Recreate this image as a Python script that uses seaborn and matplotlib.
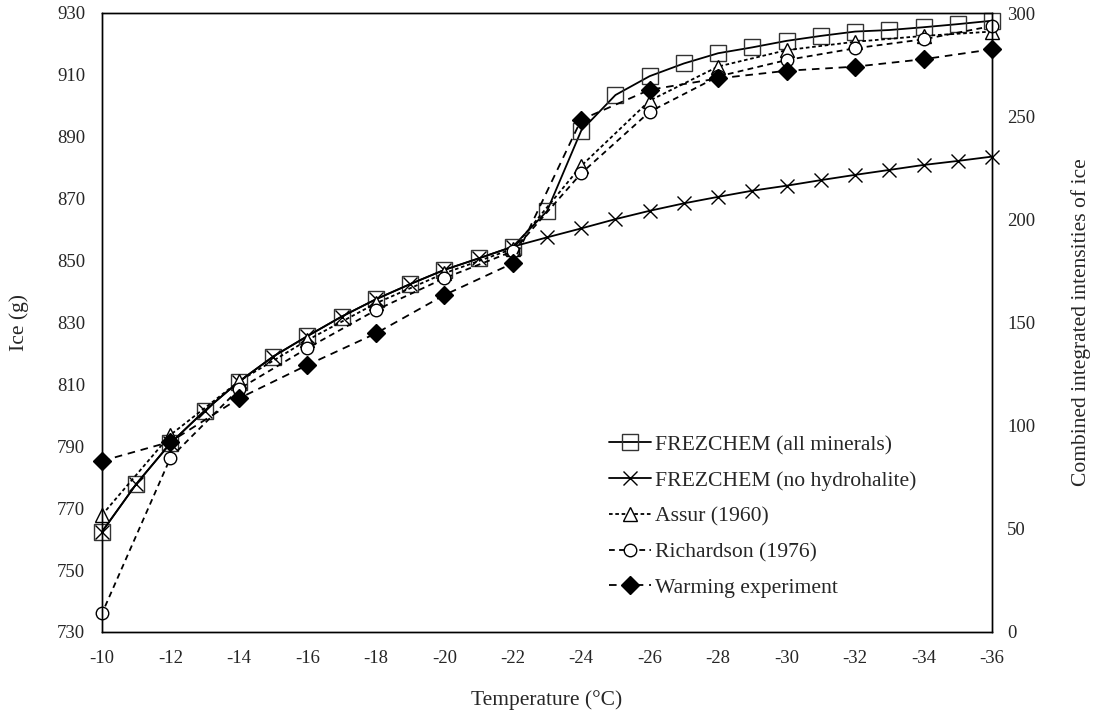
import numpy as np
import pandas as pd
import matplotlib
matplotlib.use("Agg")
import matplotlib.pyplot as plt
import seaborn as sns

# ── Data ───────────────────────────────────────────────────────────────────────

temps_1c = list(range(-10, -37, -1))          # FREZCHEM, every 1 °C
temps_2c = list(range(-10, -37, -2))          # measurements, every 2 °C

frez_all = [762.4, 777.8, 791.0, 801.5, 810.9, 819.0, 825.6, 831.9, 837.5,
            842.4, 847.0, 850.7, 854.5, 866.0, 892.0, 903.5, 909.6, 913.7,
            917.0, 918.9, 921.0, 922.6, 924.0, 924.5, 925.4, 926.4, 927.5]
frez_no_hh = [762.4, 777.8, 791.0, 801.5, 810.9, 819.0, 825.6, 831.9, 837.5,
              842.4, 847.0, 850.7, 854.5, 857.5, 860.4, 863.4, 866.1, 868.5,
              870.6, 872.6, 874.2, 876.0, 877.7, 879.3, 880.9, 882.2, 883.6]

assur = [767.8, 793.7, 811.0, 824.3, 836.2, 845.9, 853.8,
         880.6, 901.7, 912.7, 918.0, 920.7, 922.6, 924.0]
richardson = [736.0, 786.3, 808.5, 821.7, 834.0, 844.3, 853.0,
              878.2, 898.1, 909.5, 914.8, 918.6, 921.5, 925.8]
warming = [82.9, 92.2, 113.2, 129.4, 144.7, 163.3, 178.7,
           248.3, 262.8, 268.3, 272.0, 274.0, 277.6, 282.4]   # right axis

left_ticks = list(range(730, 931, 20))
right_ticks = list(range(0, 301, 50))
x_ticks = temps_2c

# ── Style ──────────────────────────────────────────────────────────────────────

sns.set_style("white")
plt.rcParams["font.family"] = ["Liberation Serif", "DejaVu Serif"]
plt.rcParams["axes.linewidth"] = 1.0
plt.rcParams["axes.edgecolor"] = "black"

fig = plt.figure(figsize=(10.97, 7.11), dpi=100)
ax = fig.add_axes([102 / 1097, 1 - 632 / 711, 890 / 1097, 619 / 711])
ax2 = ax.twinx()

lw = 1.3
common = dict(color="black", linewidth=lw, markeredgewidth=1.0, clip_on=False)

sns.lineplot(x=temps_1c, y=frez_all, ax=ax, marker="s", markersize=11,
             markerfacecolor="none", markeredgecolor="#333333",
             label="FREZCHEM (all minerals)", **common)
sns.lineplot(x=temps_1c, y=frez_no_hh, ax=ax, marker="x", markersize=10,
             markeredgecolor="black", label="FREZCHEM (no hydrohalite)", **common)
sns.lineplot(x=temps_2c, y=assur, ax=ax, marker="^", markersize=10,
             markerfacecolor="white", markeredgecolor="black",
             linestyle=(0, (2.0, 1.5)), label="Assur (1960)", **common)
sns.lineplot(x=temps_2c, y=richardson, ax=ax, marker="o", markersize=9,
             markerfacecolor="white", markeredgecolor="black",
             linestyle=(0, (3.2, 2.4)), label="Richardson (1976)", **common)
sns.lineplot(x=temps_2c, y=warming, ax=ax2, marker="D", markersize=9.5,
             markerfacecolor="black", markeredgecolor="black",
             linestyle=(0, (4.2, 3.2)), label="Warming experiment", **common)

# ── Axes ───────────────────────────────────────────────────────────────────────

ax.set_xlim(-10, -36)
ax.set_xticks(x_ticks)
ax.set_xticklabels([str(t) for t in x_ticks])
ax.set_ylim(730, 930)
ax.set_yticks(left_ticks)
ax2.set_ylim(0, 300)
ax2.set_yticks(right_ticks)

ax.tick_params(axis="y", length=0, labelsize=13.5, pad=12)
ax.tick_params(axis="x", length=0, labelsize=13.5, pad=13)
ax2.tick_params(axis="y", length=0, labelsize=13.5, pad=11)
for a in (ax, ax2):
    for s in a.spines.values():
        s.set_visible(True)
        s.set_color("black")
        s.set_linewidth(1.0)

ax.set_xlabel("Temperature (°C)", fontsize=15.5, labelpad=16.5)
ax.set_ylabel("Ice (g)", fontsize=15.5, labelpad=20)
ax2.set_ylabel("Combined integrated intensities of ice", fontsize=15.5, labelpad=26)

# combined legend
h1, l1 = ax.get_legend_handles_labels()
h2, l2 = ax2.get_legend_handles_labels()
if ax.get_legend():
    ax.get_legend().remove()
if ax2.get_legend():
    ax2.get_legend().remove()
ax2.legend(h1 + h2, l1 + l2, loc="upper left",
           bbox_to_anchor=(598 / 1097, 1 - 424 / 711),
           bbox_transform=fig.transFigure, frameon=False, fontsize=15.6,
           handlelength=1.95, handletextpad=0.2, labelspacing=0.72,
           borderpad=0, numpoints=1)

plt.savefig("out.png", dpi=100)
plt.close()
